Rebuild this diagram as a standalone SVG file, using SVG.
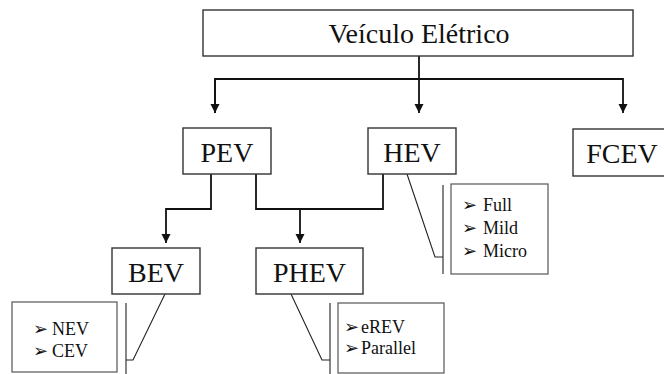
<svg xmlns="http://www.w3.org/2000/svg" width="664" height="374" viewBox="0 0 664 374">
<style>
.box{fill:#fff;stroke:#333;stroke-width:1.4}
.cbox{fill:#fff;stroke:#555;stroke-width:1.2}
.lbl{font-family:"Liberation Serif","Times New Roman",serif;font-size:28px;fill:#111;text-anchor:middle}
.item{font-family:"Liberation Serif","Times New Roman",serif;font-size:18px;fill:#111}
.bul{font-family:"DejaVu Sans",sans-serif;font-size:18px;fill:#111}
.con{fill:none;stroke:#111;stroke-width:1.8}
.cl{fill:none;stroke:#222;stroke-width:1.1}
</style>
<defs>
<marker id="ah" viewBox="0 0 10 10" refX="10" refY="5" markerUnits="userSpaceOnUse" markerWidth="9" markerHeight="10" orient="auto">
<path d="M0,0 L10,5 L0,10 z" fill="#111"/>
</marker>
</defs>
<g id="connectors">
<path class="con" d="M419,56 V113" marker-end="url(#ah)"/>
<path class="con" d="M215,113 V79 H623 V113" marker-end="url(#ah)"/>
<path class="con" d="M215,79 V113" marker-end="url(#ah)"/>
<path class="con" d="M211,174 V209 H166 V243" marker-end="url(#ah)"/>
<path class="con" d="M256,174 V209 H383 V174"/>
<path class="con" d="M300,209 V243" marker-end="url(#ah)"/>
<path class="cl" d="M165,294 L133,360 H126"/>
<path class="cl" d="M126,303 V374"/>
<path class="cl" d="M291,294 L322,360 H330"/>
<path class="cl" d="M330,303 V374"/>
<path class="cl" d="M407,174 L435,257 H443"/>
<path class="cl" d="M443,185 V274"/>
</g>
<g id="node-ve">
<rect class="box" x="203" y="10" width="430" height="46"/>
<text class="lbl" x="419" y="43">Veículo Elétrico</text>
</g>
<g id="node-pev">
<rect class="box" x="183" y="128" width="88" height="46"/>
<text class="lbl" x="227" y="162">PEV</text>
</g>
<g id="node-hev">
<rect class="box" x="368" y="128" width="88" height="46"/>
<text class="lbl" x="412" y="162">HEV</text>
</g>
<g id="node-fcev">
<rect class="box" x="573" y="129" width="100" height="47"/>
<text class="lbl" x="622" y="163">FCEV</text>
</g>
<g id="node-bev">
<rect class="box" x="112" y="248" width="88" height="46"/>
<text class="lbl" x="156" y="282">BEV</text>
</g>
<g id="node-phev">
<rect class="box" x="256" y="248" width="107" height="46"/>
<text class="lbl" x="309.5" y="282">PHEV</text>
</g>
<g id="note-bev">
<rect class="cbox" x="12" y="302" width="105" height="70"/>
<text class="bul" x="33" y="335">➢</text>
<text class="item" x="52" y="335">NEV</text>
<text class="bul" x="33" y="357">➢</text>
<text class="item" x="52" y="357">CEV</text>
</g>
<g id="note-phev">
<rect class="cbox" x="338" y="303" width="106" height="70"/>
<text class="bul" x="344" y="333">➢</text>
<text class="item" x="361" y="333">eREV</text>
<text class="bul" x="344" y="354">➢</text>
<text class="item" x="361" y="354">Parallel</text>
</g>
<g id="note-hev">
<rect class="cbox" x="451" y="184" width="97" height="90"/>
<text class="bul" x="462" y="211">➢</text>
<text class="item" x="483" y="211">Full</text>
<text class="bul" x="462" y="234">➢</text>
<text class="item" x="483" y="234">Mild</text>
<text class="bul" x="462" y="257">➢</text>
<text class="item" x="483" y="257">Micro</text>
</g>
</svg>
